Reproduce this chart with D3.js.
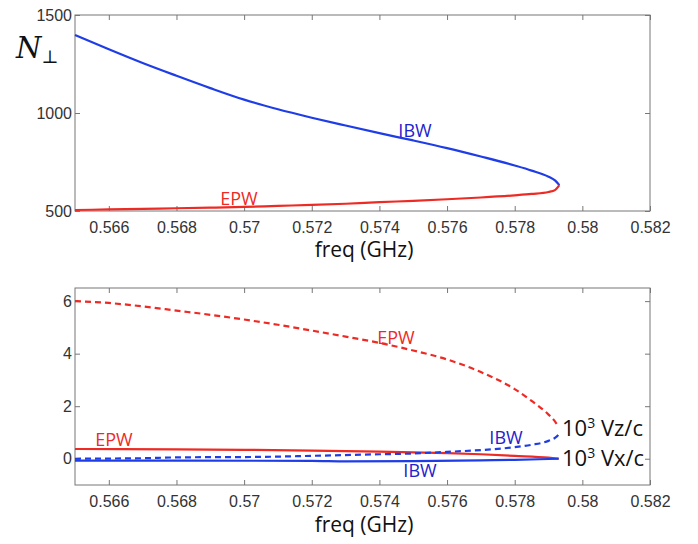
<!DOCTYPE html>
<html>
<head>
<meta charset="utf-8">
<script src="https://cdn.jsdelivr.net/npm/d3@7"></script>
<style>
  body { margin: 0; background: #fff; }
  .tick text { font-family: "Liberation Sans", Arial, sans-serif; font-size: 16px; fill: #333; }
  .tick line { stroke: #777; }
  .lbl { font-family: "Open Sans", sans-serif; }
</style>
</head>
<body>
<svg id="chart" width="698" height="544"></svg>
<script>
// x ticks shared by both panels
const freqTicks = [0.566, 0.568, 0.57, 0.572, 0.574, 0.576, 0.578, 0.58, 0.582];
const nTicks = [500, 1000, 1500];
const vTicks = [0, 2, 4, 6];

// top panel: N_perp vs freq
const ibwFreq = [0.565, 0.566, 0.567, 0.568, 0.569, 0.570, 0.571, 0.572, 0.573, 0.574, 0.575, 0.576, 0.577, 0.578, 0.5785, 0.579, 0.5792, 0.57932];
const ibwN    = [1398, 1325, 1255, 1190, 1127, 1068, 1019, 976, 936, 897, 860, 821, 778, 732, 706, 675, 655, 632];
const epwFreq = [0.565, 0.566, 0.567, 0.568, 0.569, 0.570, 0.571, 0.572, 0.573, 0.574, 0.575, 0.576, 0.577, 0.578, 0.5785, 0.579, 0.5792, 0.57932];
const epwN    = [505, 508, 511, 514, 517, 521, 526, 531, 537, 545, 552, 560, 569, 580, 587, 597, 608, 632];

// bottom panel: 10^3 Vz/c (dashed) and 10^3 Vx/c (solid)
const epwVzFreq = [0.565, 0.566, 0.567, 0.568, 0.569, 0.570, 0.571, 0.572, 0.573, 0.574, 0.575, 0.576, 0.577, 0.578, 0.5785, 0.579, 0.5792, 0.5793];
const epwVz     = [6.0, 5.93, 5.8, 5.64, 5.48, 5.3, 5.1, 4.88, 4.65, 4.41, 4.12, 3.78, 3.3, 2.65, 2.2, 1.68, 1.4, 1.2];
const ibwVzFreq = [0.565, 0.567, 0.568, 0.5705, 0.572, 0.574, 0.575, 0.576, 0.577, 0.578, 0.5785, 0.579, 0.5792, 0.5793];
const ibwVz     = [0.0, 0.02, 0.05, 0.07, 0.11, 0.17, 0.2, 0.26, 0.33, 0.44, 0.53, 0.68, 0.8, 0.92];
const epwVxFreq = [0.565, 0.568, 0.570, 0.572, 0.574, 0.576, 0.577, 0.578, 0.579, 0.5793];
const epwVx     = [0.37, 0.36, 0.34, 0.31, 0.27, 0.21, 0.17, 0.11, 0.04, 0.0];
const ibwVxFreq = [0.565, 0.572, 0.573, 0.575, 0.577, 0.578, 0.579, 0.5793];
const ibwVx     = [-0.07, -0.08, -0.1, -0.09, -0.06, -0.04, -0.01, 0.0];

const blue = '#1f3de6', red = '#ee2a24', labBlue = '#2222cc';
const svg = d3.select('#chart');

const x = d3.scaleLinear().domain([0.565, 0.582]).range([75, 650]);
const yTop = d3.scaleLinear().domain([500, 1500]).range([211, 15]);
const yBot = d3.scaleLinear().domain([-1, 6.5]).range([485, 288]);

const zip = (xs, ys) => xs.map((f, i) => ({ f, v: ys[i] }));

function frame(y, yTicks) {
    const [y0, y1] = y.range();
    svg.append('rect')
        .attr('x', 75).attr('y', y1)
        .attr('width', 575).attr('height', y0 - y1)
        .attr('fill', 'none').attr('stroke', '#777');

    svg.append('g')
        .attr('transform', `translate(0,${y0})`)
        .call(d3.axisBottom(x).tickValues(freqTicks).tickSize(-5).tickPadding(11).tickFormat(d3.format('')))
        .select('.domain').remove();

    svg.append('g')
        .attr('transform', `translate(0,${y1})`)
        .call(d3.axisTop(x).tickValues(freqTicks).tickSize(-5).tickFormat(''))
        .select('.domain').remove();

    svg.append('g')
        .attr('transform', 'translate(75,0)')
        .call(d3.axisLeft(y).tickValues(yTicks).tickSize(-5).tickPadding(3).tickFormat(d3.format('d')))
        .select('.domain').remove();

    svg.append('g')
        .attr('transform', 'translate(650,0)')
        .call(d3.axisRight(y).tickValues(yTicks).tickSize(-5).tickFormat(''))
        .select('.domain').remove();
}

function curve(data, y, color, dashed) {
    svg.append('path')
        .datum(data)
        .attr('fill', 'none')
        .attr('stroke', color)
        .attr('stroke-width', 2.2)
        .attr('stroke-dasharray', dashed ? '6,4' : null)
        .attr('d', d3.line().curve(d3.curveMonotoneX).x(d => x(d.f)).y(d => y(d.v)));
}

function label(txt, px, py, color, size) {
    svg.append('text')
        .attr('class', 'lbl')
        .attr('x', px).attr('y', py)
        .attr('text-anchor', 'middle')
        .attr('fill', color)
        .attr('font-size', size)
        .attr('font-weight', 500)
        .text(txt);
}

// top panel
frame(yTop, nTicks);
curve(zip(ibwFreq, ibwN), yTop, blue, false);
curve(zip(epwFreq, epwN), yTop, red, false);
label('IBW', 415, 137, labBlue, 18);
label('EPW', 239, 205, red, 18);
label('freq (GHz)', 364, 257, '#111', 21);

const nLab = svg.append('text')
    .attr('x', 16).attr('y', 58)
    .attr('font-family', '"DejaVu Serif", serif')
    .attr('fill', '#111');
nLab.append('tspan').attr('font-style', 'italic').attr('font-size', 29).text('N');
nLab.append('tspan').attr('font-size', 18).attr('dy', 5).text('⊥');

// bottom panel
frame(yBot, vTicks);
curve(zip(epwVxFreq, epwVx), yBot, red, false);
curve(zip(ibwVxFreq, ibwVx), yBot, blue, false);
curve(zip(epwVzFreq, epwVz), yBot, red, true);
curve(zip(ibwVzFreq, ibwVz), yBot, blue, true);
label('EPW', 396, 344, red, 18);
label('IBW', 506, 444, labBlue, 18);
label('EPW', 114, 446, red, 18);
label('IBW', 420, 477, labBlue, 18);
label('freq (GHz)', 364, 532, '#111', 21);

function velLab(comp, py) {
    const t = svg.append('text')
        .attr('class', 'lbl')
        .attr('x', 562).attr('y', py)
        .attr('fill', '#111')
        .attr('font-size', 22);
    t.append('tspan').text('10');
    t.append('tspan').attr('font-size', 14).attr('dy', -8).text('3');
    t.append('tspan').attr('dy', 8).text(' ' + comp + '/c');
}
velLab('Vz', 436);
velLab('Vx', 466);
</script>
</body>
</html>
